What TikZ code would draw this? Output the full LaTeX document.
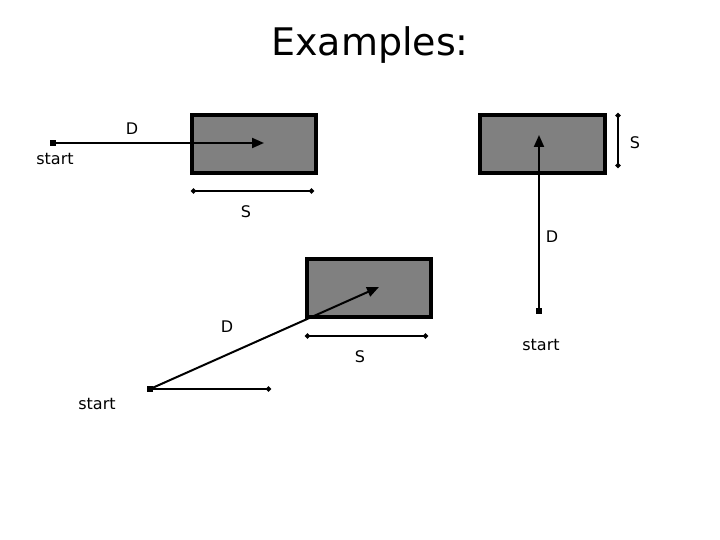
\documentclass[tikz,border=0pt]{standalone}
\usepackage{fontspec}
\setmainfont{DejaVu Sans}
\usetikzlibrary{arrows.meta}
\tikzset{
  box/.style={draw=black, line width=4.5pt, fill=gray50},
  dist/.style={line width=2pt, -{Triangle[length=12pt,width=10pt]}},
  meas/.style={line width=2pt, {Circle[length=5pt]}-{Circle[length=5pt]}},
  base/.style={line width=2pt, -{Circle[length=5pt]}},
  lbl/.style={font=\fontsize{16pt}{19pt}\selectfont, inner sep=0pt},
  startdot/.style={fill=black, minimum size=6pt, inner sep=0pt},
}
\definecolor{gray50}{RGB}{128,128,128}
\begin{document}
\begin{tikzpicture}[x=1pt,y=-1pt]
\useasboundingbox (0,0) rectangle (720,540);
\node[font=\fontsize{38pt}{44pt}\selectfont, inner sep=0pt] (title) at (370,45) {Examples:};
% example 1
\draw[box] (192,115) rectangle (316,173);
\node[startdot] (s1) at (53,143) {};
\coordinate (t1) at (264,143);
\draw[dist] (s1.center) -- (t1);
\node[lbl] (d1) at (132,129) {D};
\node[lbl] (st1) at (55,159) {start};
\coordinate (m1a) at (191,191);
\coordinate (m1b) at (314,191);
\draw[meas] (m1a) -- (m1b);
\node[lbl] (sl1) at (246,212) {S};
% example 2
\draw[box] (480,115) rectangle (605,173);
\node[startdot] (s2) at (539,311) {};
\coordinate (t2) at (539,135);
\draw[dist] (s2.center) -- (t2);
\node[lbl] (d2) at (552,237) {D};
\node[lbl] (st2) at (541,345) {start};
\coordinate (m2a) at (618,113);
\coordinate (m2b) at (618,168);
\draw[meas] (m2a) -- (m2b);
\node[lbl] (sl2) at (635,143) {S};
% example 3
\draw[box] (307,259) rectangle (431,317);
\node[startdot] (s3) at (150,389) {};
\coordinate (t3) at (379,287);
\draw[dist] (s3.center) -- (t3);
\coordinate (b3) at (271,389);
\draw[base] (s3.center) -- (b3);
\node[lbl] (d3) at (227,327) {D};
\node[lbl] (st3) at (97,404) {start};
\coordinate (m3a) at (305,336);
\coordinate (m3b) at (428,336);
\draw[meas] (m3a) -- (m3b);
\node[lbl] (sl3) at (360,357) {S};
\end{tikzpicture}
\end{document}
